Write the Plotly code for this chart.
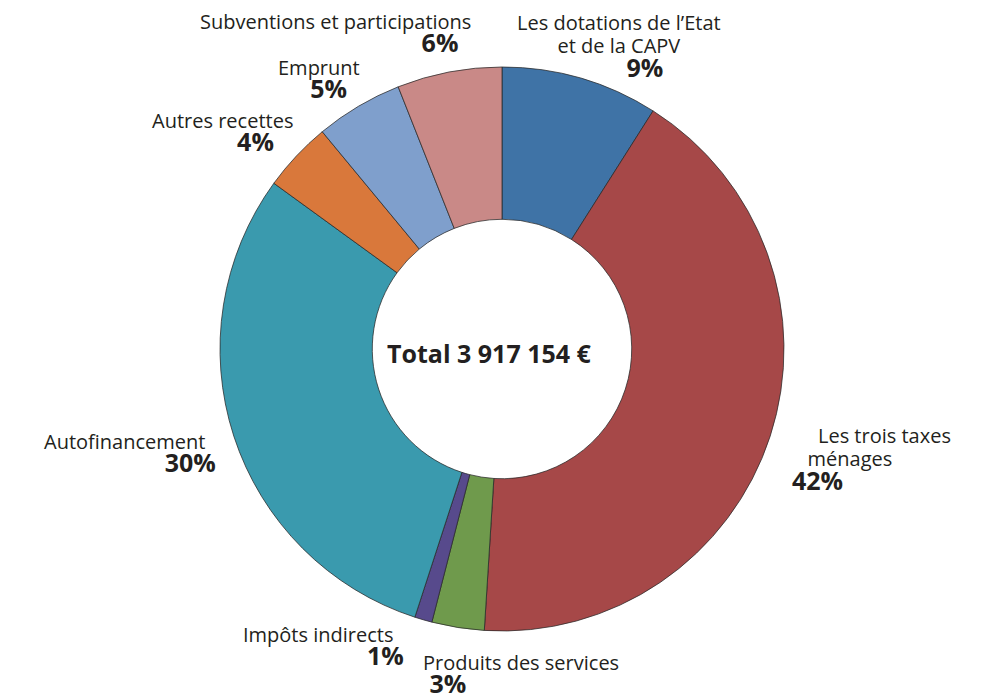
import plotly.graph_objects as go

categories = ["Les dotations de l’Etat et de la CAPV", "Les trois taxes ménages",
              "Produits des services", "Impôts indirects", "Autofinancement",
              "Autres recettes", "Emprunt", "Subventions et participations"]
values = [9, 42, 3, 1, 30, 4, 5, 6]
pct_labels = ["9%", "42%", "3%", "1%", "30%", "4%", "5%", "6%"]
label_lines = [["Les dotations de l’Etat", "et de la CAPV"], ["Les trois taxes", "ménages"],
               ["Produits des services"], ["Impôts indirects"], ["Autofinancement"],
               ["Autres recettes"], ["Emprunt"], ["Subventions et participations"]]
colors = ["#3f73a6", "#a64848", "#6f9a4c", "#574a8c", "#3a9aae", "#d9783b", "#7f9fcc", "#c98987"]
total_text = "Total 3 917 154 €"

W, H = 985, 697

fig = go.Figure(go.Pie(
    labels=categories, values=values, sort=False, direction="clockwise", rotation=0,
    hole=0.46, textinfo="none", hoverinfo="label+percent",
    marker=dict(colors=colors, line=dict(color="rgba(40,40,40,0.75)", width=1)),
    domain=dict(x=[212 / W, 776 / W], y=[1 - 625 / H, 1 - 57 / H]),
    showlegend=False,
))


def px(x, y, yoff=0):
    return x / W, 1 - (y + yoff) / H

NB = "&nbsp;"
# layout of each label block: anchor x, block middle y, alignment, per-line left/right nbsp padding
block_layout = [
    dict(x=611, y=45, align="center", pads=[(0, 0), (0, 0)], ppad=(8, 0)),
    dict(x=782, y=458, align="left", pads=[(5, 0), (3, 0)], ppad=(0, 0)),
    dict(x=413, y=673, align="left", pads=[(0, 0)], ppad=(1, 0)),
    dict(x=398, y=645, align="right", pads=[(0, 2)], ppad=(0, 0)),
    dict(x=210, y=452, align="right", pads=[(0, 2)], ppad=(0, 0)),
    dict(x=287, y=131, align="right", pads=[(0, 0)], ppad=(0, 3)),
    dict(x=311, y=79, align="center", pads=[(0, 0)], ppad=(3, 0)),
    dict(x=465, y=32, align="right", pads=[(0, 0)], ppad=(0, 2)),
]

annotations = []
for lines, pct, lay in zip(label_lines, pct_labels, block_layout):
    parts = []
    for line, (pl, pr) in zip(lines, lay["pads"]):
        parts.append('<span style="font-size:20px">' + NB * pl + line + NB * pr + "</span>")
    pl, pr = lay["ppad"]
    parts.append('<span style="font-size:25px"><b>' + NB * pl + pct + NB * pr + "</b></span>")
    ax, ay = px(lay["x"], lay["y"], yoff=-7)
    annotations.append(dict(x=ax, y=ay, xref="paper", yref="paper", text="<br>".join(parts),
                            showarrow=False, align=lay["align"], xanchor=lay["align"],
                            yanchor="middle",
                            font=dict(family="Open Sans, Lato, sans-serif", size=18, color="#231f20")))

cx, cy = px(481, 348, yoff=-3)
annotations.append(dict(x=cx, y=cy, xref="paper", yref="paper", text="<b>" + total_text + "</b>",
                        showarrow=False, font=dict(family="Open Sans, Lato, sans-serif", size=25, color="#231f20"),
                        xanchor="center", yanchor="middle"))

fig.update_layout(width=W, height=H, margin=dict(l=0, r=0, t=0, b=0),
                  paper_bgcolor="white", plot_bgcolor="white", annotations=annotations)

fig.write_html("out.html")
